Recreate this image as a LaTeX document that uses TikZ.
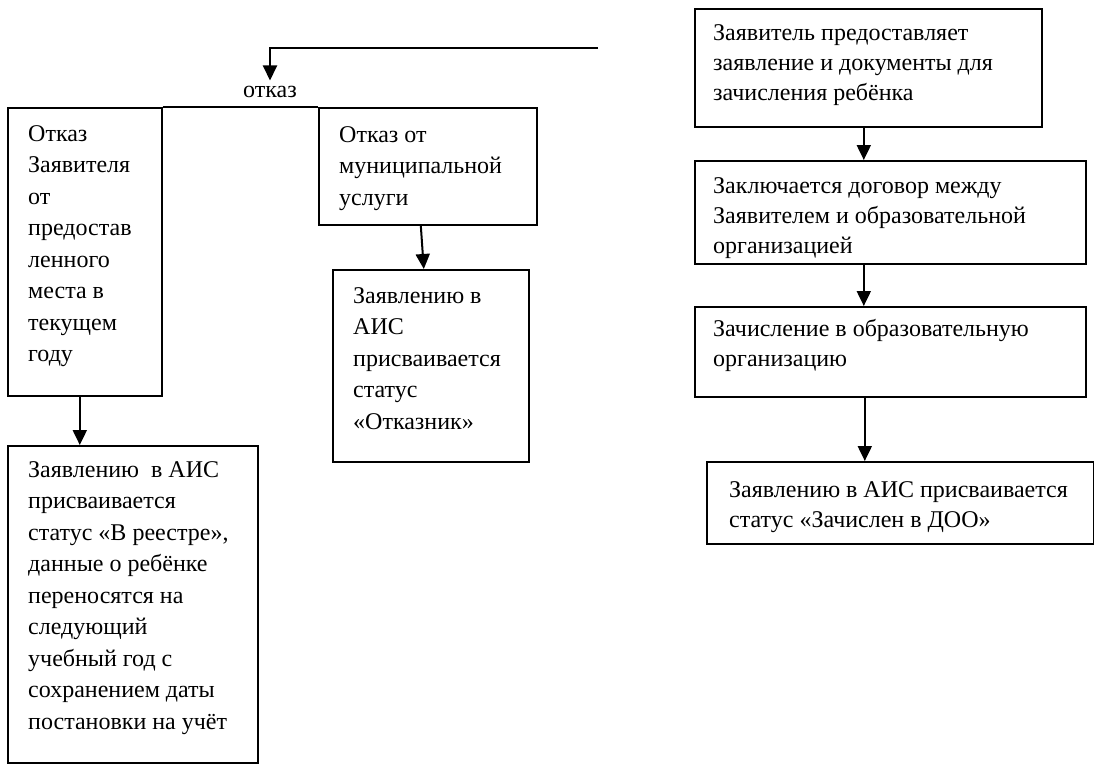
\documentclass[tikz,border=0pt]{standalone}
\usepackage{fontspec}
\setmainfont{Liberation Serif}
\newfontfamily\serf{Liberation Serif}
\usetikzlibrary{arrows.meta}
\newcommand{\tlines}[1]{\parbox[t]{450pt}{\raggedright #1}}
\begin{document}
\begin{tikzpicture}[x=1pt,y=-1pt,
  box/.style={draw, line width=1.6pt, inner sep=0pt, anchor=north west},
  txt/.style={anchor=base west, inner sep=0pt, font=\serf\fontsize{24}{31.5}\selectfont},
  txtr/.style={txt, font=\serf\fontsize{24}{30}\selectfont},
  arr/.style={line width=2pt, -{Triangle[length=15pt,width=14pt]}}]
\useasboundingbox (0,0) rectangle (1094,763);

% left part
\node[box, minimum width=154pt, minimum height=288pt] (b1) at (7,107) {};
\node[box, minimum width=218pt, minimum height=117pt] (b2) at (318,107) {};
\node[box, minimum width=196pt, minimum height=192pt] (b3) at (332,269) {};
\node[box, minimum width=250pt, minimum height=317pt] (b4) at (7,445) {};

\node[txt] (t1) at (28,141) {\tlines{Отказ\\Заявителя\\от\\предостав\\ленного\\места в\\текущем\\году}};
\node[txt] (t2) at (339,142) {\tlines{Отказ от\\муниципальной\\услуги}};
\node[txt] (t3) at (353,303) {\tlines{Заявлению в\\АИС\\присваивается\\статус\\«Отказник»}};
\node[txt] (t4) at (28,477) {\tlines{Заявлению\ \ в АИС\\присваивается\\статус «В реестре»,\\данные о ребёнке\\переносятся на\\следующий\\учебный год с\\сохранением даты\\постановки на учёт}};

\node[txt, anchor=base] (otkaz) at (270,97) {отказ};
\coordinate (start) at (598,48);

% right part
\node[box, minimum width=347pt, minimum height=118pt] (bA) at (694,8) {};
\node[box, minimum width=391pt, minimum height=103pt] (bB) at (694,160) {};
\node[box, minimum width=391pt, minimum height=90pt] (bC) at (694,306) {};
\node[box, minimum width=387pt, minimum height=82pt] (bD) at (706,461) {};

\node[txtr] (tA) at (713,40) {\tlines{Заявитель предоставляет\\заявление и документы для\\зачисления ребёнка}};
\node[txtr] (tB) at (713,193) {\tlines{Заключается договор между\\Заявителем и образовательной\\организацией}};
\node[txtr] (tC) at (713,336) {\tlines{Зачисление в образовательную\\организацию}};
\node[txtr] (tD) at (729,497) {\tlines{Заявлению в АИС присваивается\\статус «Зачислен в ДОО»}};

% connectors
\draw[arr, shorten >=5pt] (start) -| (otkaz.north);
\draw[line width=1.6pt] (b1.north east) -- (b2.north west);
\draw[arr] ([xshift=-5pt]b1.south) -- ([xshift=-5pt]b1.south |- b4.north);
\draw[arr] ([xshift=-7pt]b2.south) -- ([xshift=-7pt]b3.north);
\draw[arr] ([xshift=-4.5pt]bA.south) -- ([xshift=-4.5pt]bA.south |- bB.north);
\draw[arr] ([xshift=-26.5pt]bB.south) -- ([xshift=-26.5pt]bB.south |- bC.north);
\draw[arr] ([xshift=-25.5pt]bC.south) -- ([xshift=-25.5pt]bC.south |- bD.north);
\end{tikzpicture}
\end{document}
